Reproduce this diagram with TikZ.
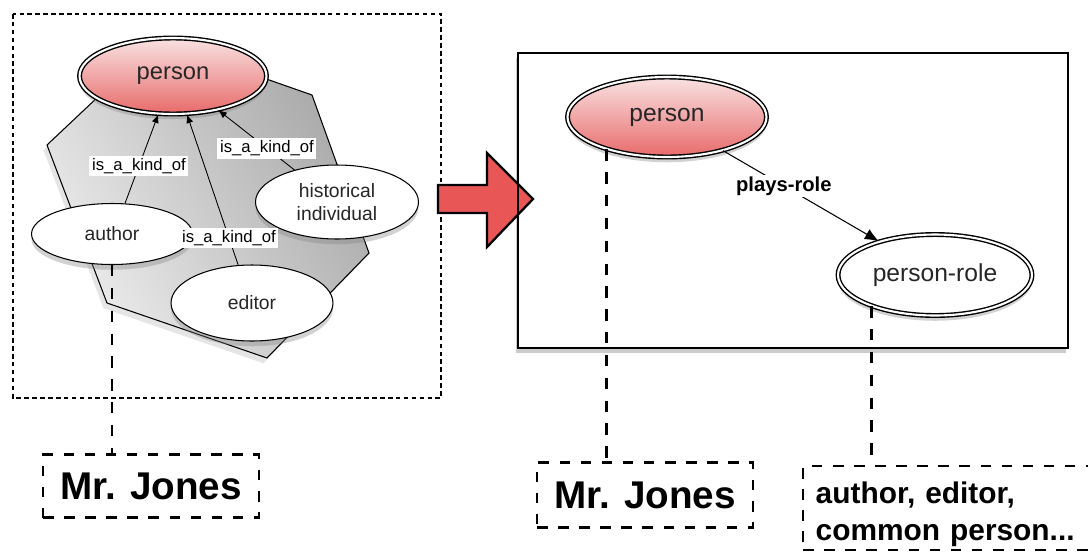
\documentclass[tikz,border=0pt]{standalone}
\usepackage{fontspec}
\setmainfont{Liberation Sans}
\usepackage{tikz}
\usetikzlibrary{arrows.meta, calc, positioning, shapes.geometric, shadows}

\definecolor{roseTop}{HTML}{F9E2E2}
\definecolor{roseBot}{HTML}{E86A6A}
\definecolor{arrowRed}{HTML}{E85656}

\tikzset{
  softshadow/.style = {drop shadow={opacity=0.35, shadow xshift=0pt, shadow yshift=-3pt}},
  concept/.style = {ellipse, draw=black, line width=0.8pt, double=white, double distance=1.2pt,
                    top color=roseTop, bottom color=roseBot, text=black!85, softshadow},
  rolenode/.style = {ellipse, draw=black, line width=0.8pt, double=white, double distance=1.2pt,
                     fill=white, text=black!85, softshadow},
  kind/.style = {ellipse, draw=black, line width=0.6pt, fill=white, align=center, text=black!85,
                 font=\fontsize{11}{13}\selectfont, softshadow},
  isa/.style = {-{Latex[length=5pt,width=4pt]}, line width=0.5pt},
  isalabel/.style = {fill=white, inner sep=1.5pt, font=\fontsize{9.5}{11}\selectfont},
  plays/.style = {-{Latex[length=8pt,width=6.5pt]}, line width=0.6pt},
  playslabel/.style = {fill=white, inner sep=1pt, font=\bfseries\fontsize{11.5}{13}\selectfont},
  link/.style = {dash pattern=on 6.5pt off 6.5pt, line width=1.6pt},
  who/.style = {draw, dash pattern=on 6pt off 6pt, line width=1.4pt, inner sep=0pt,
                font=\bfseries\fontsize{22}{26}\selectfont},
  leftframe/.style = {dash pattern=on 2.6pt off 1.9pt, line width=1.4pt},
  rightframe/.style = {line width=0.8pt},
  bigarrow/.style = {draw=black, fill=arrowRed, line width=1.3pt, line join=miter},
  blob/.style = {draw=black, line width=0.6pt, left color=black!7, right color=black!33,
                 shading angle=120, drop shadow={opacity=0.2, shadow xshift=-2pt, shadow yshift=-3pt}}
}

\begin{document}
\begin{tikzpicture}[x=0.02cm, y=-0.02cm]
  \clip (0,0) rectangle (1088,555);
  \fill[white] (0,0) rectangle (1088,555);

  \draw[leftframe] (13,14) rectangle (441,398);

  \draw[blob] (47,145) -- (107,303) -- (267,358) -- (369,253) -- (312,95) -- (255,75) -- (100,95) -- cycle;

  \node[concept, minimum width=3.74cm, minimum height=1.52cm, font=\fontsize{13.5}{16}\selectfont]
    (personL) at (173,76) {person};
  \node[kind, minimum width=3.22cm, minimum height=1.22cm] (author) at (112,234) {author};
  \node[kind, minimum width=3.26cm, minimum height=1.48cm] (historic) at (337,202) {historical\\individual};
  \node[kind, minimum width=3.24cm, minimum height=1.52cm] (editor) at (252,303) {editor};

  \draw[isa] (author.67) -- node[isalabel, pos=0.42] {is\_a\_kind\_of} (personL.249);
  \draw[isa] (editor.110) -- node[isalabel, pos=0.18] {is\_a\_kind\_of} (personL.290);
  \draw[isa] (historic.143) -- node[isalabel, pos=0.36] {is\_a\_kind\_of} (personL.323);

  \fill[white, drop shadow={opacity=0.4, shadow xshift=-1pt, shadow yshift=-3pt}] (518,53) rectangle (1068,348);
  \draw[bigarrow] (438,185) -- (487,185) -- (487,153) -- (533,199) -- (487,247) -- (487,213) -- (438,213) -- cycle;
  \draw[rightframe] (518,53) rectangle (1068,348);

  \node[concept, minimum width=3.98cm, minimum height=1.6cm, font=\fontsize{14}{16}\selectfont]
    (personR) at (667,117) {person};
  \node[rolenode, minimum width=3.88cm, minimum height=1.62cm, font=\fontsize{14}{16}\selectfont]
    (roleR) at (935,275) {person-role};

  \draw[plays] (personR.329) -- node[playslabel, pos=0.39] {plays-role} (roleR.149);

  \node[who, minimum width=4.32cm, minimum height=1.26cm] (jonesL) at (151,486) {Mr. Jones};
  \node[who, minimum width=4.32cm, minimum height=1.3cm] (jonesR) at (645,495) {Mr. Jones};
  \node[who, anchor=north west, align=left, text width=5.6cm, minimum height=1.68cm, inner xsep=0.25cm,
        font=\bfseries\fontsize{17}{21}\selectfont]
    (roles) at (802,465) {\rule{0pt}{19pt}author, editor,\\common person...};

  \draw[link] (author.south) -- (author.south |- jonesL.north);
  \draw[link] (personR.208) -- (personR.208 |- jonesR.north);
  \draw[link] (roleR.206) -- (roleR.206 |- roles.north);
\end{tikzpicture}
\end{document}
